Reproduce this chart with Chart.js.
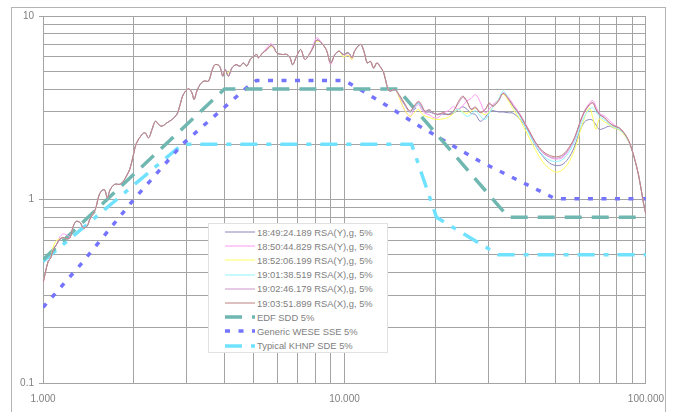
<!DOCTYPE html>
<html>
<head>
<meta charset="utf-8">
<script src="https://cdn.jsdelivr.net/npm/chart.js@4.4.1/dist/chart.umd.min.js"></script>
<style>
  body { margin: 0; background: #fff; overflow: hidden; }
  #wrap { position: relative; width: 674px; height: 412px; }
  #frame { position: absolute; left: 11px; top: 7px; width: 653px; height: 420px; border: 1px solid #b4b4b4; pointer-events: none; }
  #leyenda { position: absolute; left: 208px; top: 223px; width: 178px; height: 127px; padding-top: 1px; background: #fff; border: 1px solid #e2e2e2; font: 9.4px "Liberation Sans", Arial, sans-serif; color: #808080; }
  .item { display: flex; align-items: center; height: 14.2px; padding-left: 16px; white-space: nowrap; }
  .item svg { margin-right: 2px; flex: none; }
</style>
</head>
<body>
<div id="wrap">
  <canvas id="grafico" width="674" height="412"></canvas>
  <div id="frame"></div>
  <div id="leyenda"></div>
</div>
<script>
// Frecuencias comunes de los registros (Hz)
const freqs = [
  1.00, 1.015, 1.04, 1.06, 1.08, 1.11, 1.14, 1.17, 1.20, 1.23,
  1.26, 1.29, 1.33, 1.36, 1.40, 1.43, 1.49, 1.53, 1.56, 1.60,
  1.635, 1.67, 1.73, 1.80, 1.85, 1.89, 1.94, 1.99, 2.04, 2.13,
  2.18, 2.24, 2.30, 2.36, 2.42, 2.48, 2.58, 2.68, 2.78, 2.85,
  2.92, 3.04, 3.12, 3.17, 3.24, 3.32, 3.42, 3.54, 3.63, 3.72,
  3.85, 3.95, 4.02, 4.12, 4.23, 4.37, 4.50, 4.62, 4.74, 4.87,
  5.00, 5.12, 5.18, 5.36, 5.53, 5.70, 5.84, 5.96, 6.20, 6.43,
  6.60, 6.73, 6.94, 7.16, 7.39, 7.64, 7.86, 8.10, 8.38, 8.70,
  9.00, 9.30, 9.60, 9.90, 10.3, 10.6, 10.8, 11.3, 11.6, 11.9,
  12.2, 12.5, 12.8, 13.1, 13.5, 13.8, 14.1, 14.7,
  15.3, 15.8, 16.5, 17.0, 17.6, 18.0, 18.5, 19.1, 19.7, 20.4, 21.2, 22.1,
  23.0, 23.9, 24.7, 25.5, 26.3, 27.2, 28.2, 29.3, 30.2, 31.1,
  32.4, 33.6, 35.0, 36.3, 38.1, 39.5, 41.0, 43.1, 45.5, 47.9,
  50.5, 53.1, 55.9, 58.2, 60.3, 62.6, 65.0, 66.6, 68.3, 70.1,
  72.8, 75.6, 78.5, 81.5, 84.6, 87.8, 91.2, 94.7, 98.1, 100
];

// Espectros medidos (g)
const rsa184924 = [
  0.35, 0.39, 0.46, 0.48, 0.53, 0.57, 0.61, 0.62, 0.61, 0.62,
  0.715, 0.76, 0.746, 0.70, 0.715, 0.78, 0.88, 1.04, 1.11, 1.13,
  1.02, 1.13, 1.21, 1.21, 1.26, 1.34, 1.46, 1.72, 2.02, 2.26,
  2.31, 2.17, 2.41, 2.67, 2.56, 2.51, 2.62, 2.73, 2.91, 3.29,
  3.73, 4.01, 3.81, 3.51, 3.90, 4.23, 4.42, 4.42, 5.00, 5.43,
  5.33, 4.70, 5.10, 4.70, 5.20, 5.43, 5.33, 5.55, 5.33, 5.80,
  6.04, 6.17, 5.92, 6.30, 6.56, 6.90, 6.70, 6.30, 6.17, 6.17,
  5.92, 5.43, 6.04, 6.56, 5.80, 6.17, 6.70, 7.40, 7.14, 6.56,
  5.55, 6.17, 6.43, 6.17, 6.30, 5.92, 6.43, 7.00, 6.43, 5.55,
  5.66, 5.20, 5.55, 5.33, 4.90, 4.23, 3.90, 3.97,
  3.60, 3.30, 3.00, 3.20, 3.35, 3.20, 3.00, 3.00, 2.95, 2.90, 2.92, 2.90,
  2.95, 3.10, 3.20, 3.10, 2.95, 2.90, 2.67, 2.80, 3.00, 3.05,
  3.00, 3.00, 2.97, 2.95, 2.75, 2.55, 2.30, 1.95, 1.72, 1.58,
  1.53, 1.56, 1.72, 1.98, 2.35, 2.65, 2.73, 2.70, 2.55, 2.41,
  2.45, 2.51, 2.45, 2.40, 2.28, 2.06, 1.72, 1.34, 0.96, 0.83
];
const rsa185044 = [
  0.35, 0.39, 0.46, 0.48, 0.53, 0.57, 0.63, 0.65, 0.64, 0.63,
  0.715, 0.76, 0.746, 0.70, 0.715, 0.78, 0.88, 1.04, 1.11, 1.13,
  1.02, 1.13, 1.21, 1.21, 1.26, 1.34, 1.46, 1.72, 2.02, 2.26,
  2.31, 2.17, 2.41, 2.67, 2.56, 2.51, 2.62, 2.73, 2.91, 3.29,
  3.73, 4.01, 3.81, 3.51, 3.90, 4.23, 4.42, 4.42, 5.00, 5.43,
  5.33, 4.70, 5.10, 4.70, 5.20, 5.43, 5.33, 5.55, 5.33, 5.80,
  6.04, 6.17, 5.92, 6.30, 6.70, 7.06, 6.80, 6.30, 6.17, 6.17,
  5.92, 5.43, 6.04, 6.56, 5.80, 6.17, 6.90, 7.60, 7.20, 6.56,
  5.45, 6.17, 6.43, 6.17, 6.10, 5.80, 6.43, 7.00, 6.43, 5.55,
  5.66, 5.20, 5.55, 5.33, 4.90, 4.23, 3.90, 3.97,
  3.50, 3.09, 2.84, 3.09, 3.30, 3.10, 2.95, 2.90, 2.80, 2.79, 2.95, 3.05,
  3.20, 3.10, 3.25, 3.45, 3.55, 3.73, 3.40, 2.97, 3.10, 3.30,
  3.50, 3.81, 3.60, 3.30, 2.95, 2.66, 2.38, 2.02, 1.80, 1.70,
  1.66, 1.70, 1.90, 2.18, 2.60, 3.05, 3.35, 3.47, 3.20, 2.95,
  2.85, 2.70, 2.55, 2.46, 2.30, 2.08, 1.72, 1.34, 0.96, 0.83
];
const rsa185206 = [
  0.35, 0.39, 0.46, 0.48, 0.55, 0.60, 0.61, 0.62, 0.61, 0.62,
  0.715, 0.76, 0.746, 0.70, 0.715, 0.78, 0.88, 1.04, 1.11, 1.13,
  1.02, 1.13, 1.21, 1.21, 1.26, 1.34, 1.46, 1.72, 2.02, 2.26,
  2.31, 2.17, 2.41, 2.67, 2.56, 2.51, 2.62, 2.73, 2.91, 3.29,
  3.73, 4.01, 3.81, 3.51, 3.90, 4.23, 4.42, 4.42, 5.00, 5.43,
  5.33, 4.70, 5.00, 4.90, 5.20, 5.43, 5.33, 5.55, 5.33, 5.80,
  6.04, 6.17, 5.92, 6.30, 6.56, 6.80, 6.70, 6.30, 6.17, 6.17,
  5.92, 5.43, 6.04, 6.56, 5.80, 6.17, 6.70, 7.30, 7.14, 6.56,
  5.55, 6.17, 6.43, 6.00, 6.10, 5.80, 6.43, 7.00, 6.43, 5.55,
  5.66, 5.20, 5.55, 5.33, 4.90, 4.23, 3.90, 3.97,
  3.50, 3.10, 2.84, 2.95, 3.10, 2.95, 2.85, 2.80, 2.75, 2.73, 2.75, 2.80,
  2.95, 3.10, 3.00, 2.95, 3.03, 3.15, 3.00, 2.90, 3.00, 3.20,
  3.50, 3.75, 3.45, 3.10, 2.75, 2.45, 2.17, 1.85, 1.60, 1.47,
  1.41, 1.46, 1.63, 1.90, 2.30, 2.80, 3.15, 2.80, 2.41, 2.75,
  2.65, 2.55, 2.45, 2.40, 2.25, 2.05, 1.72, 1.34, 0.96, 0.83
];
const rsa190138 = [
  0.35, 0.39, 0.46, 0.48, 0.53, 0.57, 0.61, 0.62, 0.61, 0.62,
  0.715, 0.76, 0.746, 0.70, 0.715, 0.78, 0.88, 1.04, 1.11, 1.13,
  1.02, 1.13, 1.21, 1.21, 1.26, 1.34, 1.46, 1.72, 2.02, 2.26,
  2.31, 2.17, 2.41, 2.67, 2.56, 2.51, 2.62, 2.73, 2.91, 3.29,
  3.73, 4.01, 3.81, 3.51, 3.90, 4.23, 4.42, 4.42, 5.00, 5.43,
  5.33, 4.70, 5.10, 4.70, 5.20, 5.43, 5.33, 5.55, 5.33, 5.80,
  6.04, 6.17, 5.92, 6.30, 6.56, 6.90, 6.70, 6.30, 6.17, 6.17,
  5.92, 5.43, 6.04, 6.56, 5.80, 6.17, 6.70, 7.40, 7.14, 6.56,
  5.55, 6.17, 6.43, 6.17, 6.30, 5.92, 6.43, 7.00, 6.43, 5.55,
  5.66, 5.20, 5.55, 5.33, 4.90, 4.23, 3.90, 3.97,
  3.62, 3.30, 3.00, 3.15, 3.35, 3.20, 3.00, 3.05, 2.95, 2.90, 2.95, 2.92,
  3.00, 3.10, 2.95, 2.84, 2.90, 3.05, 2.85, 2.73, 2.95, 3.20,
  3.50, 3.90, 3.55, 3.20, 2.85, 2.55, 2.28, 1.96, 1.74, 1.64,
  1.61, 1.66, 1.84, 2.10, 2.45, 2.85, 3.10, 3.16, 3.00, 2.85,
  2.72, 2.58, 2.48, 2.42, 2.28, 2.06, 1.72, 1.34, 0.96, 0.83
];
const rsa190246 = [
  0.35, 0.39, 0.46, 0.48, 0.53, 0.57, 0.61, 0.62, 0.61, 0.62,
  0.715, 0.76, 0.746, 0.70, 0.715, 0.78, 0.88, 1.04, 1.11, 1.13,
  1.02, 1.13, 1.21, 1.21, 1.26, 1.34, 1.46, 1.72, 2.02, 2.26,
  2.31, 2.17, 2.41, 2.67, 2.56, 2.51, 2.62, 2.73, 2.91, 3.29,
  3.73, 4.01, 3.81, 3.51, 3.90, 4.23, 4.42, 4.42, 5.00, 5.43,
  5.33, 4.70, 5.10, 4.70, 5.20, 5.43, 5.33, 5.55, 5.33, 5.80,
  6.04, 6.17, 5.92, 6.30, 6.56, 6.90, 6.70, 6.30, 6.17, 6.17,
  5.92, 5.43, 6.04, 6.56, 5.80, 6.17, 6.70, 7.40, 7.14, 6.56,
  5.55, 6.17, 6.43, 6.17, 6.30, 5.92, 6.43, 7.00, 6.43, 5.55,
  5.66, 5.20, 5.55, 5.33, 4.90, 4.23, 3.90, 3.97,
  3.60, 3.30, 3.00, 3.20, 3.40, 3.25, 3.00, 3.05, 2.95, 2.92, 2.95, 2.92,
  3.05, 3.35, 3.60, 3.40, 3.12, 3.20, 3.00, 3.10, 3.30, 3.25,
  3.45, 3.80, 3.55, 3.25, 2.92, 2.62, 2.35, 2.02, 1.80, 1.71,
  1.68, 1.73, 1.92, 2.18, 2.58, 3.00, 3.28, 3.38, 3.12, 2.92,
  2.80, 2.62, 2.52, 2.45, 2.30, 2.08, 1.72, 1.34, 0.96, 0.83
];
const rsa190351 = [
  0.35, 0.39, 0.46, 0.48, 0.53, 0.57, 0.61, 0.62, 0.61, 0.62,
  0.715, 0.76, 0.746, 0.70, 0.715, 0.78, 0.88, 1.04, 1.11, 1.13,
  1.02, 1.13, 1.21, 1.21, 1.26, 1.34, 1.46, 1.72, 2.02, 2.26,
  2.31, 2.17, 2.41, 2.67, 2.56, 2.51, 2.62, 2.73, 2.91, 3.29,
  3.73, 4.01, 3.81, 3.51, 3.90, 4.23, 4.42, 4.42, 5.00, 5.43,
  5.33, 4.70, 5.10, 4.70, 5.20, 5.43, 5.33, 5.55, 5.33, 5.80,
  6.04, 6.17, 5.92, 6.30, 6.56, 6.90, 6.70, 6.30, 6.17, 6.17,
  5.92, 5.43, 6.04, 6.56, 5.80, 6.17, 6.70, 7.40, 7.14, 6.56,
  5.55, 6.17, 6.43, 6.17, 6.30, 5.92, 6.43, 7.00, 6.43, 5.55,
  5.66, 5.20, 5.55, 5.33, 4.90, 4.23, 3.90, 3.97,
  3.66, 3.36, 3.03, 3.22, 3.43, 3.29, 3.03, 3.09, 2.97, 2.90, 2.97, 2.90,
  3.03, 3.43, 3.66, 3.43, 3.09, 3.16, 2.97, 3.09, 3.36, 3.22,
  3.43, 3.78, 3.51, 3.22, 2.90, 2.62, 2.36, 2.04, 1.83, 1.74,
  1.71, 1.76, 1.95, 2.21, 2.62, 3.03, 3.29, 3.36, 3.09, 2.90,
  2.79, 2.62, 2.51, 2.46, 2.31, 2.08, 1.72, 1.34, 0.96, 0.83
];

// Espectros de diseño
const edfFreq = [1, 4, 15, 35, 100];
const edfVal = [0.47, 4.0, 4.0, 0.8, 0.8];
const wescFreq = [1, 1.33, 2, 2.9, 4.74, 5.1, 10, 11, 13.1, 17.8, 28, 45.6, 50, 100];
const wescVal = [0.258, 0.44, 1.0, 2.0, 4.07, 4.45, 4.45, 4.07, 3.43, 2.5, 1.62, 1.09, 1.01, 1.01];
const khnpFreq = [1, 2.9, 16.7, 20.2, 32.4, 100];
const khnpVal = [0.46, 2.0, 2.0, 0.8, 0.5, 0.5];

// Ejes
const xTicks = [1, 2, 3, 4, 5, 6, 7, 8, 9, 10, 20, 30, 40, 50, 60, 70, 80, 90, 100];
const yTicks = [0.1, 0.2, 0.3, 0.4, 0.5, 0.6, 0.7, 0.8, 0.9, 1, 2, 3, 4, 5, 6, 7, 8, 9, 10];
const xLabelValues = [1, 10, 100];
const xTickLabels = ['1.000', '10.000', '100.000'];
const yLabelValues = [0.1, 1, 10];
const yTickLabels = ['0.1', '1', '10'];

const GRID = '#a4a4a4';
const FONT = { family: '"Liberation Sans", Arial, sans-serif', size: 10 };

function toPoints(xs, ys) {
    return xs.map((x, i) => ({ x: x, y: ys[i] }));
}

function serie(label, xs, ys, color, width, dash, order, tension) {
    return {
        label: label,
        data: toPoints(xs, ys),
        borderColor: color,
        backgroundColor: color,
        borderWidth: width,
        borderDash: dash,
        pointRadius: 0,
        tension: tension,
        fill: false,
        order: order
    };
}

const datasets = [
    serie('18:49:24.189 RSA(Y),g, 5%', freqs, rsa184924, '#8884bc', 1, [], 6, 0.35),
    serie('18:50:44.829 RSA(Y),g, 5%', freqs, rsa185044, '#ff99f2', 1, [], 5, 0.35),
    serie('18:52:06.199 RSA(Y),g, 5%', freqs, rsa185206, '#ffff5c', 1, [], 4, 0.35),
    serie('19:01:38.519 RSA(X),g, 5%', freqs, rsa190138, '#8ff5ff', 1, [], 3, 0.35),
    serie('19:02:46.179 RSA(X),g, 5%', freqs, rsa190246, '#cc94cc', 1, [], 2, 0.35),
    serie('19:03:51.899 RSA(X),g, 5%', freqs, rsa190351, '#bc8080', 1, [], 1, 0.35),
    serie('EDF SDD 5%', edfFreq, edfVal, '#6fb7b0', 3.5, [17, 10], 10, 0),
    serie('Generic WESE SSE 5%', wescFreq, wescVal, '#7474ff', 3.5, [5, 8.5], 11, 0),
    serie('Typical KHNP SDE 5%', khnpFreq, khnpVal, '#70e2ff', 3.5, [17, 9, 5, 9], 12, 0)
];

const chart = new Chart(document.getElementById('grafico').getContext('2d'), {
    type: 'line',
    data: { datasets: datasets },
    options: {
        responsive: false,
        animation: false,
        devicePixelRatio: 1,
        layout: { padding: { left: 0, top: 16, right: 28, bottom: 0 } },
        plugins: {
            legend: { display: false },
            tooltip: { enabled: false }
        },
        scales: {
            x: {
                type: 'logarithmic',
                min: 1,
                max: 100,
                afterBuildTicks: s => { s.ticks = xTicks.map(v => ({ value: v })); },
                afterFit: s => { s.height = 29; },
                grid: { color: GRID, drawTicks: false },
                border: { color: GRID },
                ticks: {
                    autoSkip: false,
                    maxRotation: 0,
                    padding: 10,
                    color: '#808080',
                    font: FONT,
                    callback: v => {
                        const i = xLabelValues.indexOf(v);
                        return i >= 0 ? xTickLabels[i] : '';
                    }
                }
            },
            y: {
                type: 'logarithmic',
                min: 0.1,
                max: 10,
                afterBuildTicks: s => { s.ticks = yTicks.map(v => ({ value: v })); },
                afterFit: s => { s.width = 43; },
                grid: {
                    color: GRID,
                    tickLength: 4,
                    tickColor: ctx => (ctx.tick && yLabelValues.includes(ctx.tick.value)) ? GRID : 'rgba(0,0,0,0)'
                },
                border: { color: GRID },
                ticks: {
                    autoSkip: false,
                    padding: 5,
                    color: '#808080',
                    font: FONT,
                    callback: v => {
                        const i = yLabelValues.indexOf(v);
                        return i >= 0 ? yTickLabels[i] : '';
                    }
                }
            }
        }
    }
});

// Leyenda dentro del área del gráfico
const leyenda = document.getElementById('leyenda');
chart.data.datasets.forEach(ds => {
    const dash = ds.borderDash.length ? ds.borderDash.join(' ') : 'none';
    leyenda.insertAdjacentHTML('beforeend',
        `<div class="item"><svg width="30" height="6"><line x1="0" y1="3" x2="30" y2="3" stroke="${ds.borderColor}" stroke-width="${ds.borderWidth}" stroke-dasharray="${dash}"/></svg><span>${ds.label}</span></div>`);
});
</script>
</body>
</html>
